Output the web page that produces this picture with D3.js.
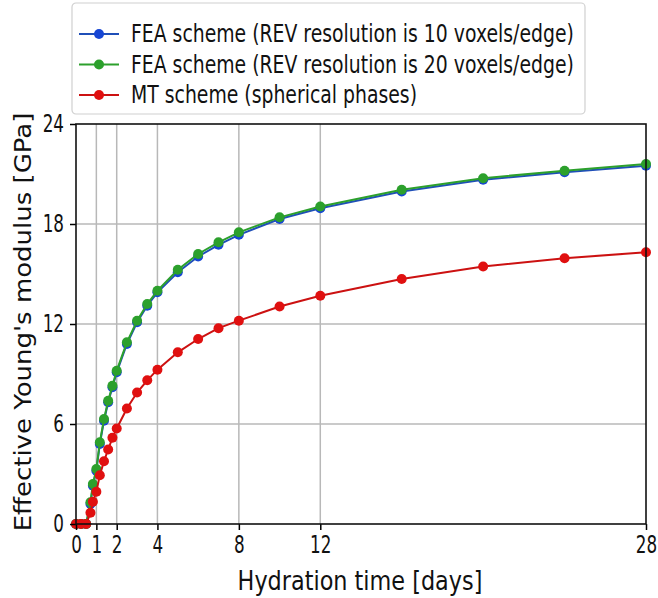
<!DOCTYPE html>
<html lang="en">
<head>
  <meta charset="UTF-8">
  <title>Effective Young's modulus vs hydration time</title>
  <script src="https://cdn.jsdelivr.net/npm/d3@7/dist/d3.min.js"></script>
  <style>
    body { margin: 0; background: #fff; }
    text { font-family: "DejaVu Sans", sans-serif; fill: #111; }
  </style>
</head>
<body>
  <div id="chart"></div>

  <script>
    // Data (days, GPa)
    var days = [0, 0.25, 0.5, 0.71, 0.83, 1.0, 1.17, 1.375, 1.58, 1.79, 2, 2.5, 3, 3.5, 4, 5, 6, 7, 8, 10, 12, 16, 20, 24, 28];
    var fea10 = [0, 0, 0, 1.2, 2.3, 3.2, 4.8, 6.2, 7.3, 8.2, 9.1, 10.8, 12.1, 13.1, 13.9, 15.1, 16.05, 16.75, 17.35, 18.3, 18.95, 19.95, 20.65, 21.1, 21.5];
    var fea20 = [0, 0, 0, 1.3, 2.4, 3.3, 4.9, 6.3, 7.4, 8.3, 9.2, 10.9, 12.2, 13.2, 14.0, 15.25, 16.2, 16.9, 17.5, 18.4, 19.05, 20.05, 20.75, 21.2, 21.6];
    var mtSpherical = [0, 0, 0, 0.68, 1.34, 1.93, 2.93, 3.77, 4.47, 5.17, 5.73, 6.93, 7.89, 8.62, 9.26, 10.3, 11.1, 11.75, 12.2, 13.05, 13.7, 14.7, 15.45, 15.95, 16.3];

    var seriesNames = [
      "FEA scheme (REV resolution is 10 voxels/edge)",
      "FEA scheme (REV resolution is 20 voxels/edge)",
      "MT scheme (spherical phases)"
    ];
    var xTicks = [0, 1, 2, 4, 8, 12, 28];
    var yTicks = [0, 6, 12, 18, 24];

    var colors = ["#1746d4", "#2ca02c", "#e01010"];
    var lineColors = ["#1f4fb8", "#2ca02c", "#cc1111"];

    var W = 658, H = 598;
    var margin = { top: 124, right: 12, bottom: 74, left: 76 },
      width = W - margin.left - margin.right,
      height = H - margin.top - margin.bottom;

    // the figure was scaled narrower than tall: squeeze text around its anchor
    function squeeze(sel, k) {
      sel.each(function () {
        var t = d3.select(this);
        var x0 = +t.attr("x") || 0;
        var prev = t.attr("transform") || "";
        t.attr("transform", prev + " translate(" + x0 + ",0) scale(" + k + ",1) translate(" + (-x0) + ",0)");
      });
    }

    var svg = d3.select("#chart")
      .append("svg")
      .attr("width", W)
      .attr("height", H);

    var g = svg.append("g")
      .attr("transform", "translate(" + margin.left + "," + margin.top + ")");

    var x = d3.scaleLinear().domain([0, 28]).range([0, width]);
    var y = d3.scaleLinear().domain([0, 24]).range([height, 0]);

    // grid
    g.append("g").selectAll("line")
      .data(xTicks.filter(function (d) { return d > 0 && d < 28; }))
      .enter().append("line")
      .attr("x1", function (d) { return x(d); })
      .attr("x2", function (d) { return x(d); })
      .attr("y1", 0).attr("y2", height)
      .attr("stroke", "#b8b8b8").attr("stroke-width", 1.5);

    g.append("g").selectAll("line")
      .data(yTicks.filter(function (d) { return d > 0 && d < 24; }))
      .enter().append("line")
      .attr("y1", function (d) { return y(d); })
      .attr("y2", function (d) { return y(d); })
      .attr("x1", 0).attr("x2", width)
      .attr("stroke", "#b8b8b8").attr("stroke-width", 1.5);

    // series
    var series = [fea10, fea20, mtSpherical].map(function (vals, i) {
      return { name: seriesNames[i], pts: days.map(function (d, j) { return [d, vals[j]]; }) };
    });

    var line = d3.line()
      .x(function (d) { return x(d[0]); })
      .y(function (d) { return y(d[1]); });

    series.forEach(function (s, i) {
      var sg = g.append("g");
      sg.append("path")
        .attr("d", line(s.pts))
        .attr("fill", "none")
        .attr("stroke", lineColors[i])
        .attr("stroke-width", 2);
      sg.selectAll("circle")
        .data(s.pts)
        .enter().append("circle")
        .attr("cx", function (d) { return x(d[0]); })
        .attr("cy", function (d) { return y(d[1]); })
        .attr("r", 5)
        .attr("fill", colors[i]);
    });

    // axes
    var xAxis = g.append("g")
      .attr("transform", "translate(0," + height + ")")
      .call(d3.axisBottom(x).tickValues(xTicks).tickSize(6).tickPadding(6));
    var yAxis = g.append("g")
      .call(d3.axisLeft(y).tickValues(yTicks).tickSize(6).tickPadding(6));

    [xAxis, yAxis].forEach(function (ax) {
      ax.select(".domain").remove();
      ax.selectAll(".tick line").attr("stroke", "#000").attr("stroke-width", 1.5);
      ax.selectAll(".tick text").attr("font-size", 24).attr("fill", "#111");
      squeeze(ax.selectAll(".tick text"), 0.7);
    });

    // frame
    g.append("rect")
      .attr("width", width).attr("height", height)
      .attr("fill", "none").attr("stroke", "#111").attr("stroke-width", 1.6);

    // axis titles
    var xt = svg.append("text")
      .attr("x", margin.left + width / 2 - 1)
      .attr("y", 590)
      .attr("text-anchor", "middle")
      .attr("font-size", 26)
      .text("Hydration time [days]");
    squeeze(xt, 0.86);

    var yt = svg.append("text")
      .attr("transform", "translate(31," + (margin.top + height / 2 - 2) + ") scale(0.85,1) rotate(-90)")
      .attr("text-anchor", "middle")
      .attr("font-size", 26)
      .text("Effective Young's modulus [GPa]");

    // legend
    var legend = svg.append("g").attr("transform", "translate(72,3)");
    legend.append("rect")
      .attr("width", 513).attr("height", 111)
      .attr("rx", 4)
      .attr("fill", "#fff").attr("stroke", "#d0d0d0").attr("stroke-width", 1.2);

    series.forEach(function (s, i) {
      var row = legend.append("g").attr("transform", "translate(0," + (31 + i * 30.5) + ")");
      row.append("line")
        .attr("x1", 7).attr("x2", 47)
        .attr("stroke", lineColors[i]).attr("stroke-width", 2);
      row.append("circle")
        .attr("cx", 27).attr("r", 5).attr("fill", colors[i]);
      var t = row.append("text")
        .attr("x", 59).attr("dy", "0.35em")
        .attr("font-size", 24)
        .text(s.name);
      squeeze(t, 0.785);
    });
  </script>
</body>
</html>
